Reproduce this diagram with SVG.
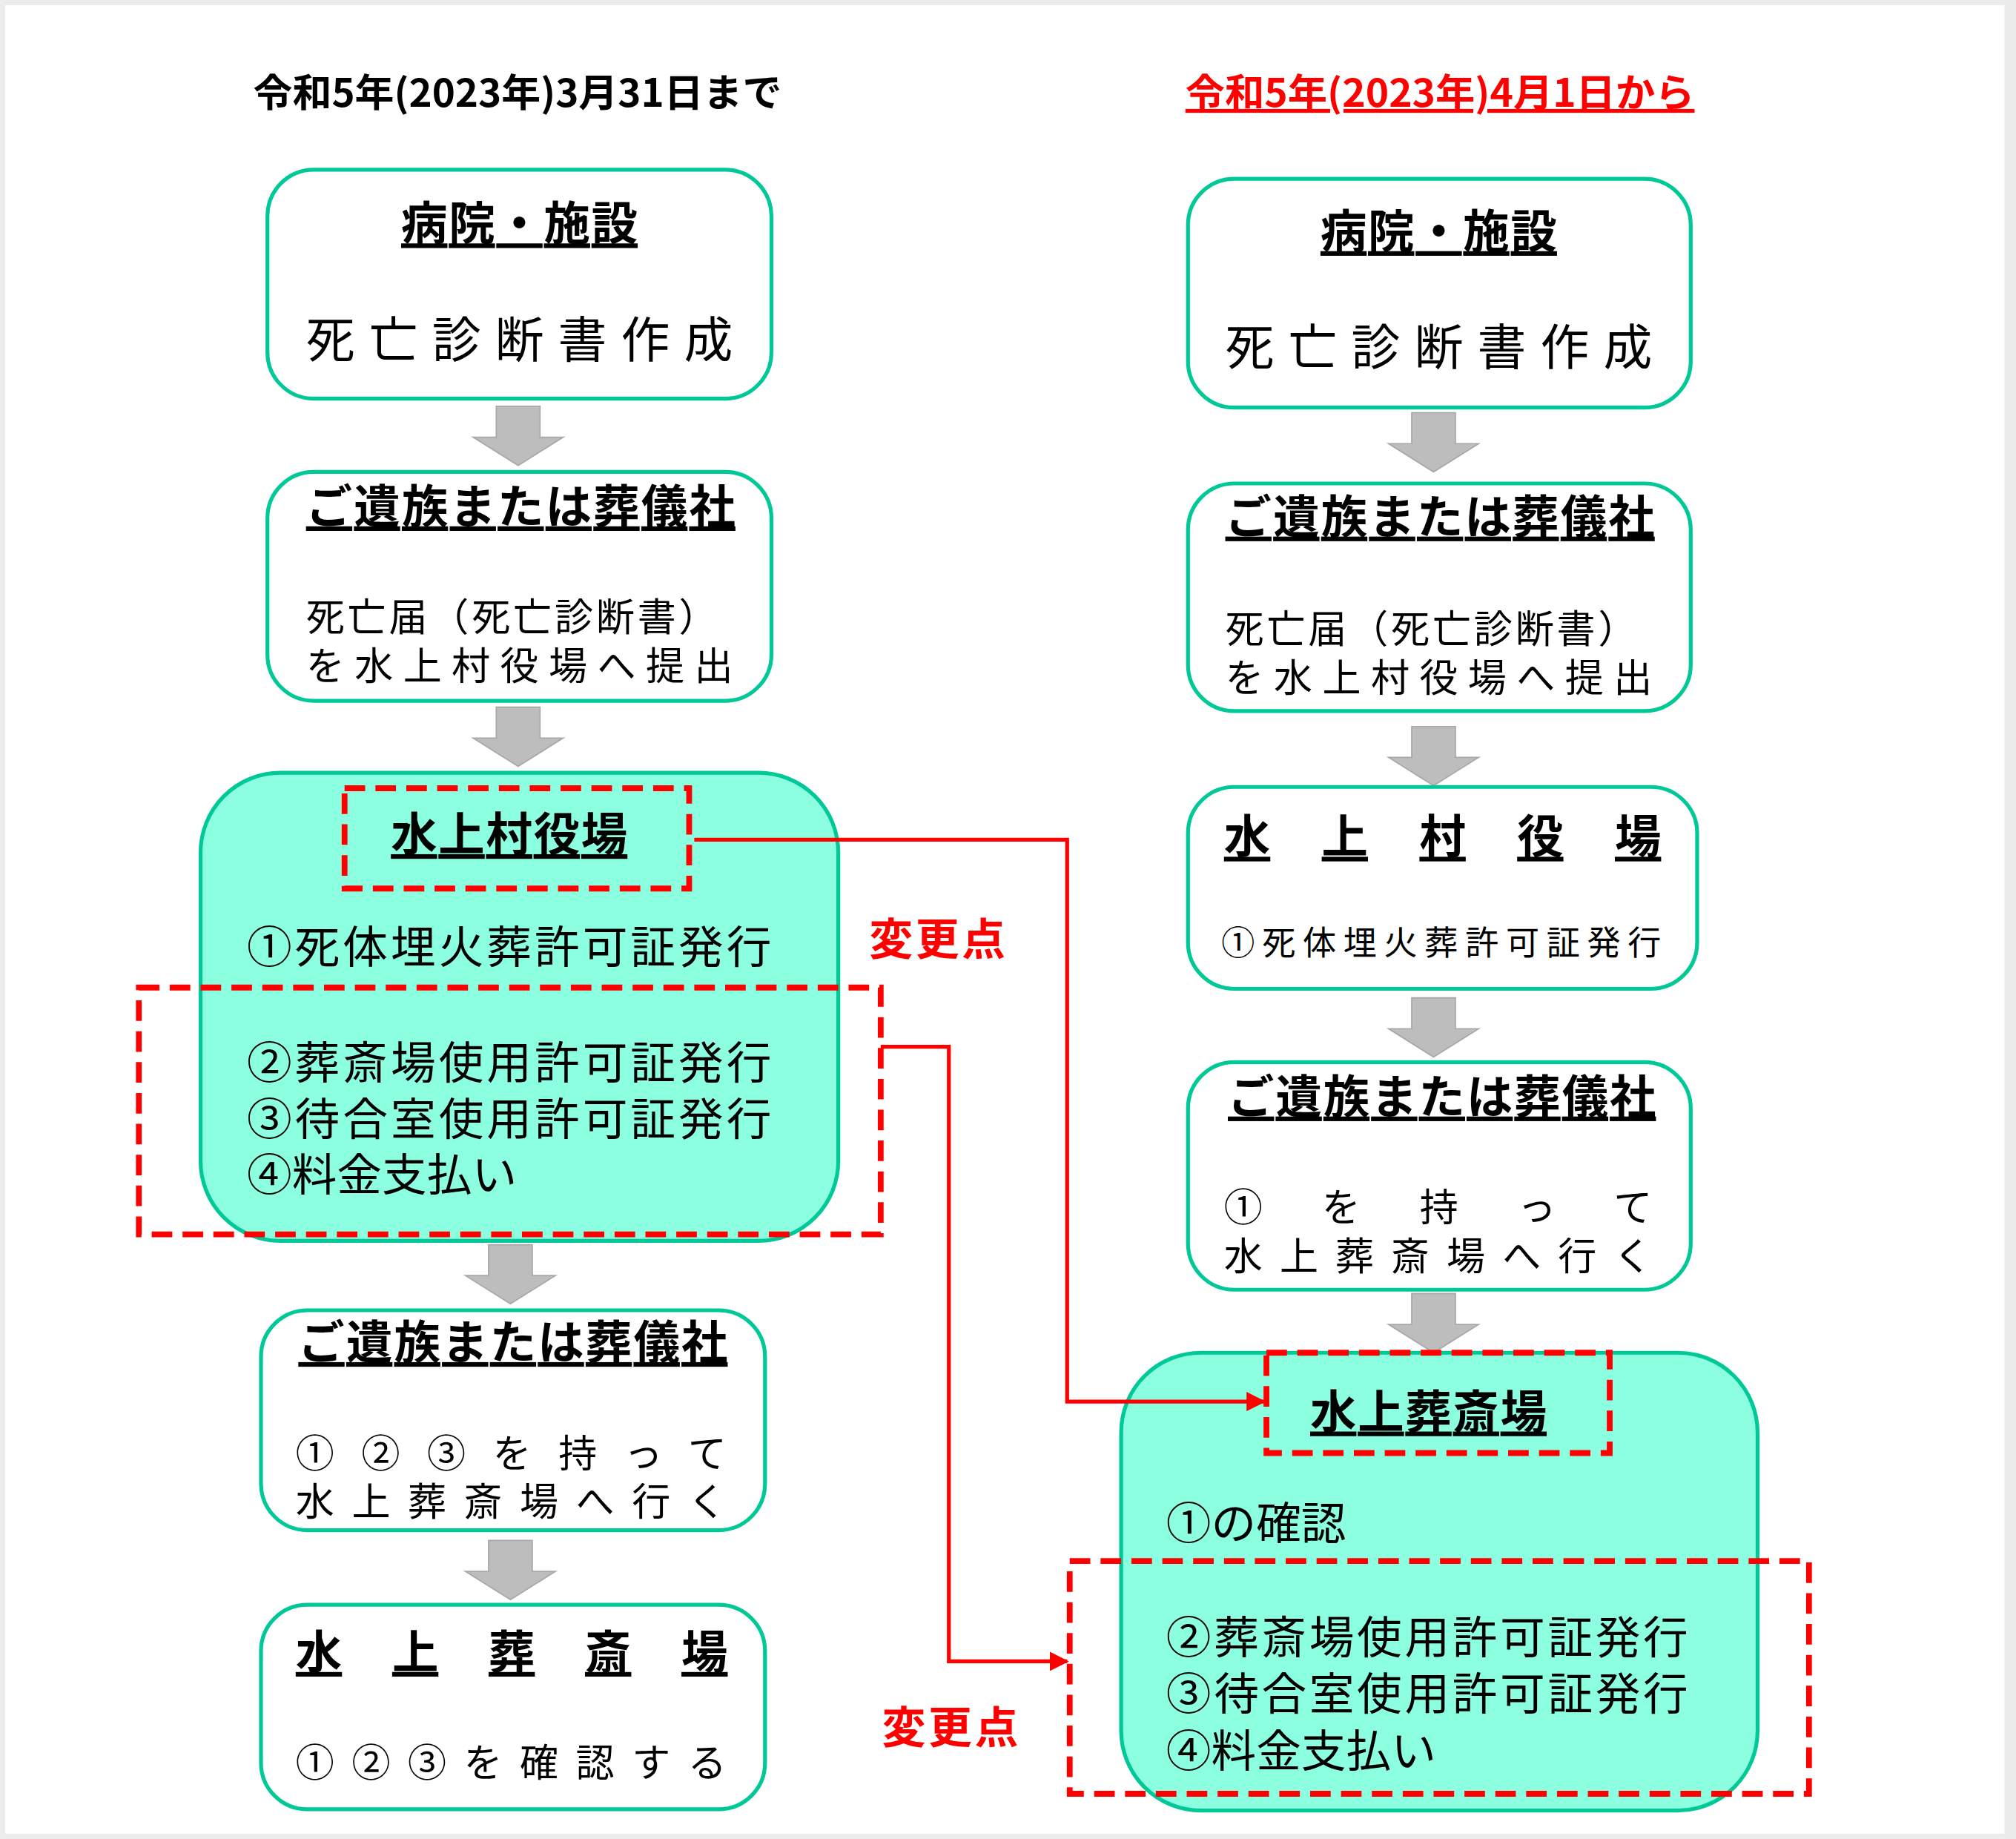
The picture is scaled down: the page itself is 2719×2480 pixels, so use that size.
<svg xmlns="http://www.w3.org/2000/svg" width="2719" height="2480" viewBox="0 0 2719 2480">
<defs>
<style>
.box{fill:#fff;stroke:#00c896;stroke-width:3}
.fill{fill:#8cffe0;stroke:#00c896;stroke-width:3}
.dash{fill:none;stroke:#f00;stroke-width:4.5;stroke-dasharray:16 8}
.arr{fill:#bdbdbd;stroke:#a8a8a8;stroke-width:1}
.con{fill:none;stroke:#f00;stroke-width:3}
text{font-family:"Noto Sans CJK JP","Noto Sans",sans-serif;fill:#000}
.t{font-size:36px;font-weight:bold;text-decoration:underline}
.n{font-size:30px}
.big{font-size:38px}
.m{font-size:35px}
.red{fill:#f00;font-weight:bold;font-size:34px}
</style>
<marker id="ah" viewBox="0 0 10 10" refX="9" refY="5" markerWidth="5" markerHeight="5" orient="auto" markerUnits="strokeWidth"><path d="M0,0L10,5L0,10z" fill="#f00"/></marker>
<path id="da" d="M-17,0h34v24h18l-35,22l-35,-22h18z"/>
</defs>
<rect width="2719" height="2480" fill="#ececec"/>
<g transform="scale(1.73406)">
<rect x="4" y="4" width="1555" height="1422" fill="#fff"/>
<g id="titles">
<text x="197" y="83" font-size="30" font-weight="bold" textLength="411" lengthAdjust="spacingAndGlyphs">令和5年(2023年)3月31日まで</text>
<text x="922" y="83" font-size="30" font-weight="bold" text-decoration="underline" style="fill:#f00" textLength="396" lengthAdjust="spacingAndGlyphs">令和5年(2023年)4月1日から</text>
</g>
<g id="arrows">
<use href="#da" x="403" y="316" class="arr"/>
<use href="#da" x="403" y="550" class="arr"/>
<use href="#da" x="397" y="968" class="arr"/>
<use href="#da" x="397" y="1198" class="arr"/>
<use href="#da" x="1115" y="321" class="arr"/>
<use href="#da" x="1115" y="565" class="arr"/>
<use href="#da" x="1115" y="776" class="arr"/>
<use href="#da" x="1115" y="1006" class="arr"/>
</g>
<g id="L1"><rect class="box" x="208" y="132" width="392" height="178" rx="36"/>
<text class="t" x="312" y="187" textLength="184" lengthAdjust="spacing">病院・施設</text>
<text class="big" x="238" y="278" textLength="332" lengthAdjust="spacing">死亡診断書作成</text></g>
<g id="L2"><rect class="box" x="208" y="367" width="392" height="178" rx="36"/>
<text class="t" x="238" y="407" textLength="334" lengthAdjust="spacing">ご遺族または葬儀社</text>
<text class="n" x="238" y="491" textLength="320" lengthAdjust="spacing">死亡届（死亡診断書）</text>
<text class="n" x="238" y="529" textLength="332" lengthAdjust="spacing">を水上村役場へ提出</text></g>
<g id="L3"><rect class="fill" x="156" y="601" width="496" height="364" rx="62"/>
<rect class="dash" x="268" y="613" width="268" height="78"/>
<text class="t" x="304" y="662" textLength="184" lengthAdjust="spacing">水上村役場</text>
<text class="m" x="192" y="749" textLength="408" lengthAdjust="spacing">①死体埋火葬許可証発行</text>
<text class="m" x="192" y="839" textLength="408" lengthAdjust="spacing">②葬斎場使用許可証発行</text>
<text class="m" x="192" y="883" textLength="408" lengthAdjust="spacing">③待合室使用許可証発行</text>
<text class="m" x="192" y="926">④料金支払い</text>
<rect class="dash" x="108" y="768" width="577" height="192"/></g>
<text class="red" x="676" y="743" textLength="106" lengthAdjust="spacing">変更点</text>
<text class="red" x="686" y="1356" textLength="106" lengthAdjust="spacing">変更点</text>
<g id="L4"><rect class="box" x="203" y="1019" width="392" height="171" rx="36"/>
<text class="t" x="232" y="1057" textLength="334" lengthAdjust="spacing">ご遺族または葬儀社</text>
<text class="n" x="230" y="1141" textLength="335" lengthAdjust="spacing">①②③を持って</text>
<text class="n" x="230" y="1179" textLength="335" lengthAdjust="spacing">水上葬斎場へ行く</text></g>
<g id="L5"><rect class="box" x="203" y="1248" width="392" height="159" rx="36"/>
<text class="t" x="230" y="1298" textLength="336" lengthAdjust="spacing">水上葬斎場</text>
<text class="n" x="230" y="1382" textLength="335" lengthAdjust="spacing">①②③を確認する</text></g>
<g id="R1"><rect class="box" x="924" y="139" width="391" height="178" rx="36"/>
<text class="t" x="1027" y="193" textLength="184" lengthAdjust="spacing">病院・施設</text>
<text class="big" x="953" y="284" textLength="332" lengthAdjust="spacing">死亡診断書作成</text></g>
<g id="R2"><rect class="box" x="924" y="376" width="391" height="177" rx="36"/>
<text class="t" x="953" y="415" textLength="334" lengthAdjust="spacing">ご遺族または葬儀社</text>
<text class="n" x="953" y="500" textLength="320" lengthAdjust="spacing">死亡届（死亡診断書）</text>
<text class="n" x="953" y="538" textLength="332" lengthAdjust="spacing">を水上村役場へ提出</text></g>
<g id="R3"><rect class="box" x="924" y="612" width="396" height="157" rx="36"/>
<text class="t" x="952" y="664" textLength="340" lengthAdjust="spacing">水上村役場</text>
<text x="950" y="743" font-size="26" textLength="342" lengthAdjust="spacing">①死体埋火葬許可証発行</text></g>
<g id="R4"><rect class="box" x="924" y="826" width="391" height="177" rx="36"/>
<text class="t" x="955" y="866" textLength="333" lengthAdjust="spacing">ご遺族または葬儀社</text>
<text class="n" x="952" y="950" textLength="333" lengthAdjust="spacing">①を持って</text>
<text class="n" x="952" y="988" textLength="333" lengthAdjust="spacing">水上葬斎場へ行く</text></g>
<g id="R5"><rect class="fill" x="872" y="1052" width="495" height="356" rx="62"/>
<rect class="dash" x="985" y="1052" width="267" height="78"/>
<text class="t" x="1019" y="1111" textLength="184" lengthAdjust="spacing">水上葬斎場</text>
<text class="m" x="907" y="1197">①の確認</text>
<text class="m" x="907" y="1286" textLength="406" lengthAdjust="spacing">②葬斎場使用許可証発行</text>
<text class="m" x="907" y="1330" textLength="406" lengthAdjust="spacing">③待合室使用許可証発行</text>
<text class="m" x="907" y="1374">④料金支払い</text>
<rect class="dash" x="832" y="1214" width="575" height="181"/></g>
<g id="connectors">
<path class="con" d="M540,653H830V1090H983" marker-end="url(#ah)"/>
<path class="con" d="M685,814H738V1292H830" marker-end="url(#ah)"/>
</g>
</g>
</svg>
